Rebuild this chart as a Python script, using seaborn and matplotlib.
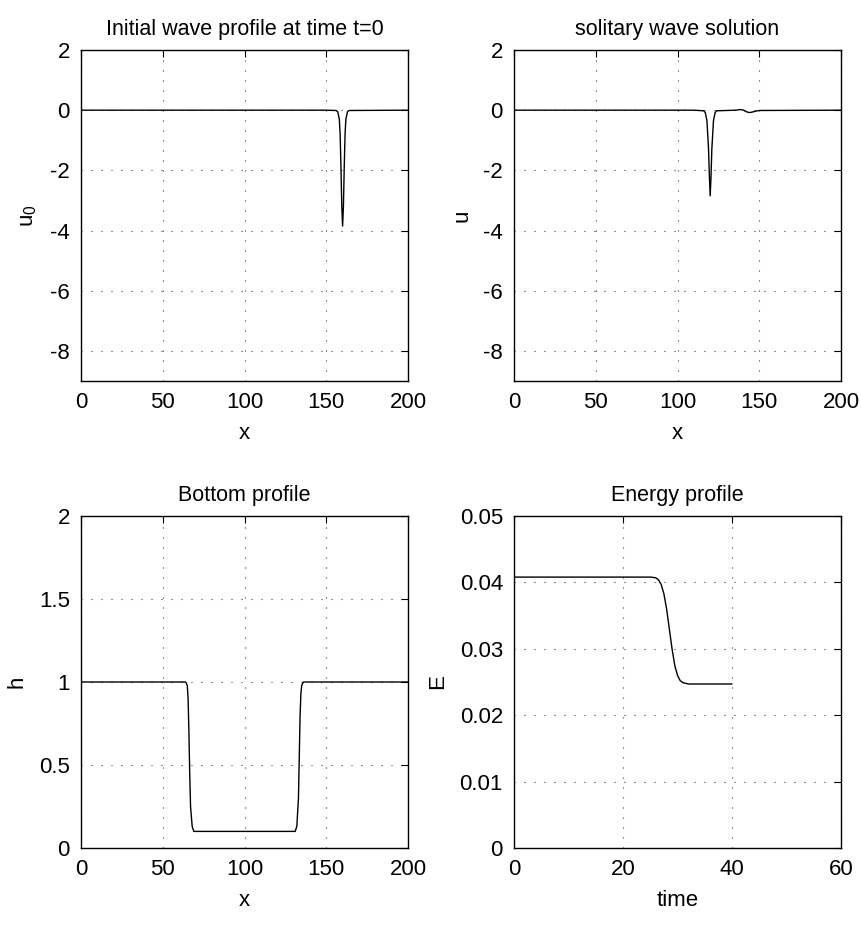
# Four-panel summary of the solitary wave run (MATLAB-style subplots)
import matplotlib
matplotlib.use("Agg")
import matplotlib.pyplot as plt
import matplotlib.ticker as mticker
import seaborn as sns

# initial wave profile u0(x), t = 0
x_init = [0, 150, 156, 157, 158, 158.5, 159, 159.5, 160, 160.5, 161, 161.5, 162, 163, 164, 200]
u_init = [0, 0, -0.01, -0.05, -0.3, -0.8, -1.9, -3.2, -3.85, -3.2, -1.9, -0.8, -0.3, -0.05, -0.01, 0]

# solitary wave solution u(x) at the final time
x_sol = [0, 110, 116, 117, 118, 119, 119.5, 120, 120.5, 121, 122, 123, 124,
         136, 138, 140, 142, 144, 146, 148, 150, 200]
u_sol = [0, 0, -0.02, -0.08, -0.35, -1.3, -2.2, -2.85, -2.2, -1.3, -0.35, -0.08, -0.02,
         0, 0.02, 0.01, -0.05, -0.08, -0.06, -0.03, -0.01, 0]

# bottom profile h(x)
x_bot = [0, 64, 65, 65.5, 66, 66.5, 67, 68, 69, 131, 132, 133, 133.5, 134, 134.5, 135, 136, 200]
h_bot = [1, 1, 0.98, 0.9, 0.7, 0.45, 0.25, 0.13, 0.1, 0.1, 0.13, 0.3, 0.55, 0.8, 0.93, 0.98, 1, 1]

# energy E(t)
t_en = [0, 25, 26, 26.5, 27, 27.5, 28, 28.5, 29, 29.5, 30, 30.5, 31, 32, 40]
E_en = [0.0408, 0.0408, 0.0407, 0.0404, 0.0397, 0.0383, 0.036, 0.033, 0.030,
        0.0275, 0.026, 0.0252, 0.0249, 0.0247, 0.0247]

sns.set_style("white")
plt.rcParams['font.family'] = ['Liberation Sans', 'DejaVu Sans']
plt.rcParams['mathtext.fontset'] = 'custom'
plt.rcParams['mathtext.rm'] = 'Liberation Sans'
plt.rcParams['font.size'] = 16
for key in ('text.color', 'axes.labelcolor', 'xtick.color', 'ytick.color'):
    plt.rcParams[key] = 'k'

fig = plt.figure(figsize=(8.62, 9.25), dpi=100)
W, H = 327 / 862, 331 / 925
ax1 = fig.add_axes([81 / 862, 1 - 381 / 925, W, H])
ax2 = fig.add_axes([514 / 862, 1 - 381 / 925, W, H])
ax3 = fig.add_axes([81 / 862, 1 - 848 / 925, W, 332 / 925])
ax4 = fig.add_axes([514 / 862, 1 - 848 / 925, W, 332 / 925])

sns.lineplot(x=x_init, y=u_init, ax=ax1, color='k', lw=1)
sns.lineplot(x=x_sol, y=u_sol, ax=ax2, color='k', lw=1)
sns.lineplot(x=x_bot, y=h_bot, ax=ax3, color='k', lw=1)
sns.lineplot(x=t_en, y=E_en, ax=ax4, color='k', lw=1)

for ax in (ax1, ax2):
    ax.set_xlim(0, 200)
    ax.set_ylim(-9, 2)
    ax.set_xticks([0, 50, 100, 150, 200])
    ax.set_yticks([-8, -6, -4, -2, 0, 2])
    ax.set_xlabel('x')
ax1.set_title('Initial wave profile at time t=0', pad=11, fontsize=15.5)
ax1.set_ylabel(r'u$_\mathregular{0}$')
ax2.set_title('solitary wave solution', pad=11, fontsize=15.5)
ax2.set_ylabel('u')

ax3.set_xlim(0, 200)
ax3.set_ylim(0, 2)
ax3.set_xticks([0, 50, 100, 150, 200])
ax3.set_yticks([0, 0.5, 1, 1.5, 2])
ax3.set_xlabel('x')
ax3.set_ylabel('h')
ax3.set_title('Bottom profile', pad=11, fontsize=15.5)

ax4.set_xlim(0, 60)
ax4.set_ylim(0, 0.05)
ax4.set_xticks([0, 20, 40, 60])
ax4.set_yticks([0, 0.01, 0.02, 0.03, 0.04, 0.05])
ax4.set_xlabel('time')
ax4.set_ylabel('E')
ax4.set_title('Energy profile', pad=11, fontsize=15.5)

for ax in (ax1, ax2, ax3, ax4):
    ax.yaxis.set_major_formatter(mticker.FormatStrFormatter('%g'))
    ax.grid(True, color='0.15', linestyle=(0, (0.9, 8.1)), linewidth=0.8)
    ax.tick_params(direction='in', top=True, right=True, length=5, width=0.8,
                   labelsize=16, pad=8)
    for s in ax.spines.values():
        s.set_linewidth(1.0)
        s.set_color('k')
    ax.xaxis.labelpad = 7
    ax.yaxis.labelpad = 8

plt.savefig('out.png', dpi=100)
